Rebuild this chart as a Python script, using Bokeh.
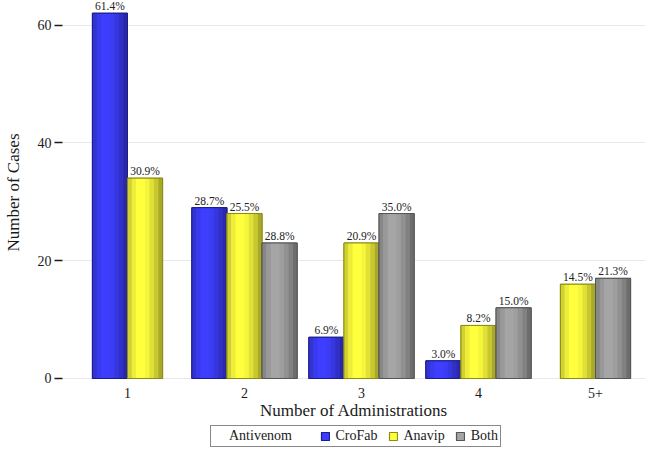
from bokeh.plotting import figure
from bokeh.layouts import column
from bokeh.models import (ColumnDataSource, FixedTicker, Legend, LegendItem,
                          Range1d)
from bokeh.embed import file_html
from bokeh.resources import INLINE
from bokeh.core.properties import value

# ---- data ----
categories = ["1", "2", "3", "4", "5+"]
series = ["CroFab", "Anavip", "Both"]
crofab = [62, 29, 7, 3, 0]
anavip = [34, 28, 23, 9, 16]
both = [0, 23, 28, 12, 17]
crofab_pct = ["61.4%", "28.7%", "6.9%", "3.0%", ""]
anavip_pct = ["30.9%", "25.5%", "20.9%", "8.2%", "14.5%"]
both_pct = ["", "28.8%", "35.0%", "15.0%", "21.3%"]
y_ticks = [0, 20, 40, 60]
legend_title = "Antivenom"

base_rgb = [(62, 62, 255), (255, 255, 62), (165, 165, 165)]
line_colors = ["#1c1c8c", "#8c8c10", "#555555"]
shade = [0.82, 0.93, 1.0, 1.0, 0.96, 0.88, 0.78, 0.66]

FONT = "Liberation Serif"
BAR_W = 0.3

values = [crofab, anavip, both]
pcts = [crofab_pct, anavip_pct, both_pct]

def hexcol(rgb, f):
    return "#%02x%02x%02x" % tuple(min(255, int(round(c * f))) for c in rgb)

# dodge positions (missing bars dropped, like position_dodge)
xs = {s: [] for s in range(3)}
ys = {s: [] for s in range(3)}
ls = {s: [] for s in range(3)}
for i, cat in enumerate(categories):
    present = [s for s in range(3) if values[s][i] > 0]
    n = len(present)
    for k, s in enumerate(present):
        xs[s].append(i + 1 + (k - (n - 1) / 2) * BAR_W)
        ys[s].append(values[s][i])
        ls[s].append(pcts[s][i])

sources = [ColumnDataSource(dict(x=xs[s], top=ys[s], lab=ls[s])) for s in range(3)]

p = figure(width=645, height=425, output_backend="svg", toolbar_location=None,
           x_range=Range1d(0.4444, 5.4273), y_range=Range1d(-1.02, 64.16),
           min_border_left=62, min_border_right=0, min_border_top=0,
           min_border_bottom=41, background_fill_color="white",
           border_fill_color="white", outline_line_color=None)

for s in range(3):
    src = sources[s]
    p.vbar(x="x", top="top", bottom=0, width=BAR_W, source=src,
           fill_color=hexcol(base_rgb[s], 1.0), line_color=line_colors[s],
           line_width=1)
    nstrip = len(shade)
    sw = BAR_W / nstrip
    for j, f in enumerate(shade):
        off = -BAR_W / 2 + sw * (j + 0.5)
        ssrc = ColumnDataSource(dict(x=[x + off for x in xs[s]], top=ys[s]))
        p.vbar(x="x", top="top", bottom=0, width=sw * 1.02, source=ssrc,
               fill_color=hexcol(base_rgb[s], f), line_color=None)
    p.vbar(x="x", top="top", bottom=0, width=BAR_W, source=src,
           fill_color=None, line_color=line_colors[s], line_width=1)
    p.text(x="x", y="top", text="lab", source=src, text_align="center",
           text_baseline="bottom", y_offset=-1, text_font=value(FONT),
           text_font_size="11.5px", text_color="#222222")

# grid
p.xgrid.visible = False
p.ygrid.grid_line_color = "#e8e8e8"
p.ygrid.grid_line_width = 1
p.ygrid.ticker = FixedTicker(ticks=y_ticks)

# y axis
p.yaxis.ticker = FixedTicker(ticks=y_ticks)
p.yaxis.axis_line_color = None
p.yaxis.major_tick_line_color = "#1a1a1a"
p.yaxis.major_tick_line_width = 1.5
p.yaxis.major_tick_out = 8
p.yaxis.major_tick_in = 0
p.yaxis.minor_tick_line_color = None
p.yaxis.major_label_standoff = 3
p.yaxis.major_label_text_font = FONT
p.yaxis.major_label_text_font_size = "14px"
p.yaxis.major_label_text_color = "#1a1a1a"
p.yaxis.axis_label = "Number of Cases"
p.yaxis.axis_label_text_font = FONT
p.yaxis.axis_label_text_font_size = "17px"
p.yaxis.axis_label_text_font_style = "normal"
p.yaxis.axis_label_text_color = "#1a1a1a"
p.yaxis.axis_label_standoff = 12

# x axis
p.xaxis.ticker = FixedTicker(ticks=list(range(1, len(categories) + 1)))
p.xaxis.major_label_overrides = {i + 1: c for i, c in enumerate(categories)}
p.xaxis.axis_line_color = None
p.xaxis.major_tick_line_color = None
p.xaxis.major_tick_out = 0
p.xaxis.minor_tick_line_color = None
p.xaxis.major_label_standoff = 3
p.xaxis.major_label_text_font = FONT
p.xaxis.major_label_text_font_size = "14px"
p.xaxis.major_label_text_color = "#1a1a1a"
p.xaxis.axis_label = "Number of Administrations"
p.xaxis.axis_label_text_font = FONT
p.xaxis.axis_label_text_font_size = "17px"
p.xaxis.axis_label_text_font_style = "normal"
p.xaxis.axis_label_text_color = "#1a1a1a"
p.xaxis.axis_label_standoff = 0

# ---- legend strip (separate small figure below the chart) ----
# its ranges lie away from the data, so the proxy bars themselves stay hidden
lg = figure(width=645, height=22, output_backend="svg", toolbar_location=None,
            x_range=Range1d(100, 101), y_range=Range1d(1000, 1001),
            x_axis_location=None, y_axis_location=None,
            min_border_left=0, min_border_right=0, min_border_top=0,
            min_border_bottom=0, outline_line_color=None,
            background_fill_color="white", border_fill_color="white")
lg.xgrid.visible = False
lg.ygrid.visible = False
blank = lg.vbar(x="x", top="top", bottom=0, width=BAR_W, source=sources[0],
                fill_alpha=0, line_alpha=0)
swatches = [lg.vbar(x="x", top="top", bottom=0, width=BAR_W, source=sources[s],
                    fill_color=hexcol(base_rgb[s], 1.0),
                    line_color=line_colors[s], line_width=1.2) for s in range(3)]
items = [LegendItem(label=legend_title + "     ", renderers=[blank])]
items += [LegendItem(label=series[s], renderers=[swatches[s]]) for s in range(3)]
legend = Legend(items=items, orientation="horizontal", location=(148, 0),
                border_line_color="#111111",
                border_line_width=1.5, padding=2, spacing=10,
                label_standoff=6, glyph_width=10, glyph_height=10,
                label_height=12, label_text_font=FONT,
                label_text_font_size="14px", label_text_color="#1a1a1a",
                background_fill_alpha=1.0, margin=0)
lg.add_layout(legend, "center")

layout = column(p, lg, spacing=0)
open("out.html", "w").write(file_html(layout, INLINE))
